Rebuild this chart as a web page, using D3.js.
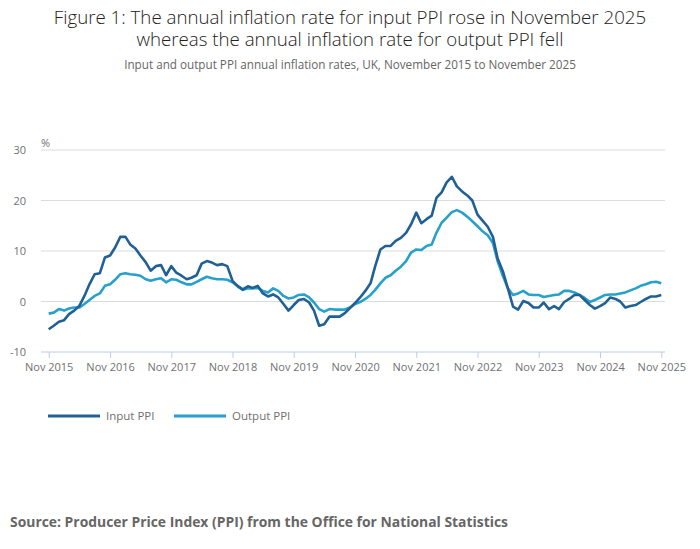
<!DOCTYPE html>
<html>
<head>
<meta charset="utf-8">
<script src="https://cdn.jsdelivr.net/npm/d3@7"></script>
<style>
  body { margin: 0; background: #fff; font-family: "Open Sans", sans-serif; }
</style>
</head>
<body>
<svg width="700" height="549" id="mainsvg"></svg>
<script>
// monthly values, Nov 2015 .. Nov 2025
const inputPPI = [
  -5.5, -4.8, -4.0, -3.7, -2.5, -1.8, -0.9, 1.1, 3.4, 5.4,
  5.6, 8.7, 9.1, 10.7, 12.8, 12.8, 11.3, 10.5, 9.1, 7.8,
  6.1, 7.0, 7.2, 5.2, 7.0, 5.7, 5.1, 4.4, 4.7, 5.2,
  7.5, 8.0, 7.7, 7.2, 7.4, 7.0, 4.1, 3.1, 2.4, 3.0,
  2.7, 3.1, 1.6, 1.0, 1.4, 0.8, -0.5, -1.8, -0.7, 0.3,
  0.5, -0.2, -1.8, -4.8, -4.5, -3.0, -3.0, -3.0, -2.3, -1.3,
  -0.3, 0.8, 2.1, 3.6, 7.0, 10.3, 11.0, 11.0, 12.0, 12.6,
  13.6, 15.3, 17.6, 15.5, 16.3, 17.0, 20.5, 21.6, 23.6, 24.7,
  22.8, 21.8, 21.0, 20.0, 17.2, 16.0, 14.8, 12.8, 8.5, 6.0,
  2.6, -1.0, -1.6, 0.1, -0.3, -1.2, -1.2, -0.2, -1.5, -0.9,
  -1.5, -0.1, 0.5, 1.3, 1.3, 0.3, -0.7, -1.4, -0.9, -0.3,
  0.8, 0.5, 0.0, -1.2, -0.9, -0.7, -0.1, 0.5, 1.0, 1.0, 1.3
];
const outputPPI = [
  -2.4, -2.2, -1.5, -1.8, -1.4, -1.2, -1.2, -0.5, 0.3, 1.1,
  1.6, 3.1, 3.4, 4.3, 5.4, 5.6, 5.4, 5.3, 5.1, 4.4,
  4.1, 4.4, 4.6, 3.8, 4.4, 4.3, 3.8, 3.4, 3.4, 3.9,
  4.4, 4.9, 4.6, 4.4, 4.4, 4.3, 3.8, 3.0, 2.3, 2.6,
  2.6, 2.7, 2.1, 1.8, 2.6, 2.1, 1.1, 0.6, 0.8, 1.3,
  1.4, 0.8, -0.2, -1.5, -2.0, -1.5, -1.6, -1.6, -1.6, -1.2,
  -0.5, -0.1, 0.5, 1.3, 2.3, 3.6, 4.7, 5.2, 6.1, 6.9,
  8.0, 9.7, 10.3, 10.2, 11.0, 11.3, 13.6, 15.6, 16.6, 17.7,
  18.1, 17.6, 16.8, 15.9, 14.9, 13.9, 13.1, 11.6, 8.0, 5.1,
  2.6, 1.3, 1.6, 2.1, 1.4, 1.3, 1.3, 0.9, 1.1, 1.3,
  1.4, 2.1, 2.1, 1.8, 1.3, 0.7, -0.1, 0.3, 0.8, 1.3,
  1.4, 1.4, 1.6, 1.8, 2.2, 2.6, 3.1, 3.4, 3.8, 3.9, 3.6
];
const yTicks = [-10, 0, 10, 20, 30];
const seriesNames = ["Input PPI", "Output PPI"];
const colours = ["#206095", "#27a0cc"];
const titleLines = [
  'Figure 1: The annual inflation rate for input PPI rose in November 2025',
  'whereas the annual inflation rate for output PPI fell'
];

const svg = d3.select('svg');
const months = d3.timeMonth.range(new Date(2015, 10, 1), new Date(2025, 11, 1));
const xTicks = months.filter((d, i) => i % 12 === 0);

const x = d3.scaleTime().domain([months[0], months[months.length - 1]]).range([48.7, 661.3]);
const y = d3.scaleLinear().domain([-10, 30]).range([352, 150]);

// titles (one text, two lines)
svg.append('text').attr('x', 350).attr('y', 24).attr('text-anchor', 'middle')
  .attr('font-size', 18.7).attr('font-weight', 300).attr('fill', '#222')
  .selectAll('tspan').data(titleLines).join('tspan')
  .attr('x', 350).attr('dy', (d, i) => i === 0 ? 0 : 21.5).text(d => d);
svg.append('text').attr('x', 350).attr('y', 68.5).attr('text-anchor', 'middle')
  .attr('font-size', 11.7).attr('fill', '#666')
  .text('Input and output PPI annual inflation rates, UK, November 2015 to November 2025');

// gridlines + y labels
const grid = svg.append('g');
grid.selectAll('line').data(yTicks.filter(d => d > -10)).join('line')
  .attr('x1', 41).attr('x2', 665)
  .attr('y1', d => y(d)).attr('y2', d => y(d))
  .attr('stroke', '#dcdcdc').attr('stroke-width', 1);
grid.selectAll('text').data(yTicks).join('text')
  .attr('x', 26).attr('y', d => y(d) + 4).attr('text-anchor', 'end')
  .attr('font-size', 11).attr('fill', '#707070')
  .text(d => d);
svg.append('text').attr('x', 41).attr('y', 147).attr('font-size', 11).attr('fill', '#707070').text('%');

// x axis
const xAxis = d3.axisBottom(x).tickValues(xTicks).tickFormat(d3.timeFormat('%b %Y')).tickSize(6).tickSizeOuter(0);
const gx = svg.append('g').attr('transform', `translate(0,${y(-10)})`).call(xAxis);
gx.select('.domain').remove();
gx.selectAll('.tick line').attr('stroke', '#b8cde6');
gx.selectAll('.tick text').attr('font-family', '"Open Sans", sans-serif').attr('font-size', 11)
  .attr('fill', '#707070').attr('dy', '0.95em');
svg.append('line').attr('x1', 41).attr('x2', 665).attr('y1', y(-10)).attr('y2', y(-10))
  .attr('stroke', '#b8cde6').attr('stroke-width', 1);

// lines
const line = d3.line().x((d, i) => x(months[i])).y(d => y(d));
[outputPPI, inputPPI].forEach((s, k) => {
  svg.append('path').datum(s).attr('fill', 'none')
    .attr('stroke', k === 0 ? colours[1] : colours[0])
    .attr('stroke-width', 2.6).attr('stroke-linejoin', 'round')
    .attr('d', line);
});

// legend
const lg = svg.append('g').selectAll('g').data(seriesNames).join('g')
  .attr('transform', (d, i) => `translate(${48 + i * 126},416)`);
lg.append('line').attr('x1', 0).attr('x2', 52).attr('stroke', (d, i) => colours[i]).attr('stroke-width', 3);
lg.append('text').attr('x', 58).attr('y', 4).attr('font-size', 11.5).attr('fill', '#707070').text(d => d);

// source
svg.append('text').attr('x', 10).attr('y', 527).attr('font-size', 13.9).attr('font-weight', 700)
  .attr('fill', '#666').text('Source: Producer Price Index (PPI) from the Office for National Statistics');
</script>
</body>
</html>
